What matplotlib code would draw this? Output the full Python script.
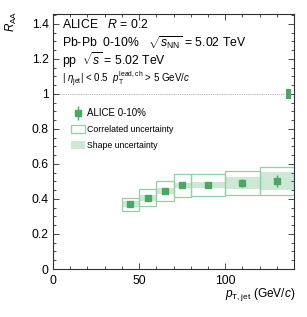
import matplotlib
matplotlib.use("Agg")
import matplotlib.pyplot as plt
from matplotlib.patches import Rectangle
from matplotlib.ticker import MultipleLocator
from matplotlib.legend_handler import HandlerErrorbar
from matplotlib.container import ErrorbarContainer
import numpy as np

# ---- data ----
pt_low = [40, 50, 60, 70, 80, 100, 120]
pt_high = [50, 60, 70, 80, 100, 120, 140]
raa = [0.371, 0.407, 0.446, 0.478, 0.482, 0.491, 0.503]
stat_err = [0.008, 0.008, 0.008, 0.009, 0.012, 0.025, 0.035]
corr_err = [0.037, 0.049, 0.057, 0.065, 0.063, 0.069, 0.081]
shape_err = [0.016, 0.017, 0.015, 0.015, 0.017, 0.034, 0.050]
norm_unc = 0.026
norm_pt = [135.5, 138.5]

x_ticks = [0, 50, 100]
y_ticks = [0, 0.2, 0.4, 0.6, 0.8, 1.0, 1.2, 1.4]
y_ticklabels = ["0", "0.2", "0.4", "0.6", "0.8", "1", "1.2", "1.4"]

# ---- style ----
plt.rcParams['font.family'] = ['Liberation Sans', 'DejaVu Sans']
plt.rcParams['mathtext.fontset'] = 'custom'
plt.rcParams['mathtext.rm'] = 'Liberation Sans'
plt.rcParams['mathtext.it'] = 'Liberation Sans:italic'
plt.rcParams['mathtext.bf'] = 'Liberation Sans:bold'

c_mark = '#4aa864'
c_box = '#95cfa3'
c_band = '#cde8d4'
c_frame = '#2e2e3c'

W, H = 307, 317
fig = plt.figure(figsize=(W / 100, H / 100), dpi=100)
ax = fig.add_axes([53 / W, 1 - 269 / H, (294 - 53) / W, (269 - 14) / H])

ax.set_xlim(0, 140)
ax.set_ylim(0, 1.457)

pt_low_a = np.array(pt_low)
pt_high_a = np.array(pt_high)
centers = (pt_low_a + pt_high_a) / 2
raa_a = np.array(raa)

# shape uncertainty bands
for lo, hi, v, e in zip(pt_low, pt_high, raa, shape_err):
    ax.add_patch(Rectangle((lo, v - e), hi - lo, 2 * e, facecolor=c_band,
                           edgecolor='none', zorder=1))
# correlated uncertainty boxes
for lo, hi, v, e in zip(pt_low, pt_high, raa, corr_err):
    ax.add_patch(Rectangle((lo, v - e), hi - lo, 2 * e, facecolor='none',
                           edgecolor=c_box, lw=0.9, zorder=2))
# normalization uncertainty
ax.add_patch(Rectangle((norm_pt[0], 1 - norm_unc), norm_pt[1] - norm_pt[0],
                       2 * norm_unc, facecolor=c_mark, edgecolor='none', zorder=3))

ax.axhline(1.0, color='#999999', lw=0.6, ls=(0, (1, 1.2)), zorder=0)

eb = ax.errorbar(centers, raa_a, yerr=stat_err, fmt='s', color=c_mark,
                 markersize=4.4, elinewidth=1.0, capsize=0, zorder=4,
                 label='ALICE 0-10%')

# ---- axes styling ----
for s in ax.spines.values():
    s.set_color(c_frame)
    s.set_linewidth(0.8)
ax.set_xticks(x_ticks)
ax.set_yticks(y_ticks)
ax.set_yticklabels(y_ticklabels)
ax.xaxis.set_minor_locator(MultipleLocator(10))
ax.yaxis.set_minor_locator(MultipleLocator(0.05))
ax.tick_params(which='both', direction='in', top=True, right=True,
               color=c_frame, width=0.6)
ax.tick_params(which='major', length=4, labelsize=8.8)
ax.tick_params(which='minor', length=2)
ax.tick_params(axis='x', which='major', pad=4)
ax.tick_params(axis='y', which='major', pad=3)

# axis labels
fig.text(295 / W, 1 - 297 / H, r'$p_{\mathrm{T,jet}}$ (GeV/$c$)', fontsize=8.6,
         ha='right', va='baseline')
fig.text(19 / W, 1 - 11 / H, r'$R_{\mathrm{AA}}$', fontsize=8.5, rotation=90,
         ha='right', va='top')

# annotations
fig.text(62 / W, 1 - 27.5 / H, r'ALICE   $R$ = 0.2', fontsize=8.8, va='baseline')
fig.text(62 / W, 1 - 46.5 / H, r'Pb-Pb  0-10%   $\sqrt{s_{\mathrm{NN}}}$ = 5.02 TeV',
         fontsize=8.8, va='baseline')
fig.text(62 / W, 1 - 64.5 / H, r'pp  $\sqrt{s}$ = 5.02 TeV', fontsize=8.8,
         va='baseline')
fig.text(62 / W, 1 - 83 / H,
         r'| $\eta_{\mathrm{jet}}$| < 0.5  $p_{\mathrm{T}}^{\mathrm{lead,ch}}$ > 5 GeV/$c$',
         fontsize=7.0, va='baseline')

# legend
h_corr = Rectangle((0, 0), 1, 1, facecolor='none', edgecolor=c_box, lw=0.9)
h_shape = Rectangle((0, 0), 1, 1, facecolor=c_band, edgecolor='none')
leg = ax.legend([eb, h_corr, h_shape],
                ['ALICE 0-10%', 'Correlated uncertainty', 'Shape uncertainty'],
                loc='upper left', bbox_to_anchor=((70.5 - 53) / 241, (269 - 108.5) / 255),
                frameon=False, fontsize=6.3, handlelength=1.6, handleheight=1.05,
                handletextpad=0.25, labelspacing=0.75, borderpad=0, borderaxespad=0,
                handler_map={ErrorbarContainer: HandlerErrorbar(yerr_size=0.85)})
leg.get_texts()[0].set_fontsize(7.0)

fig.savefig('out.png', dpi=100)
